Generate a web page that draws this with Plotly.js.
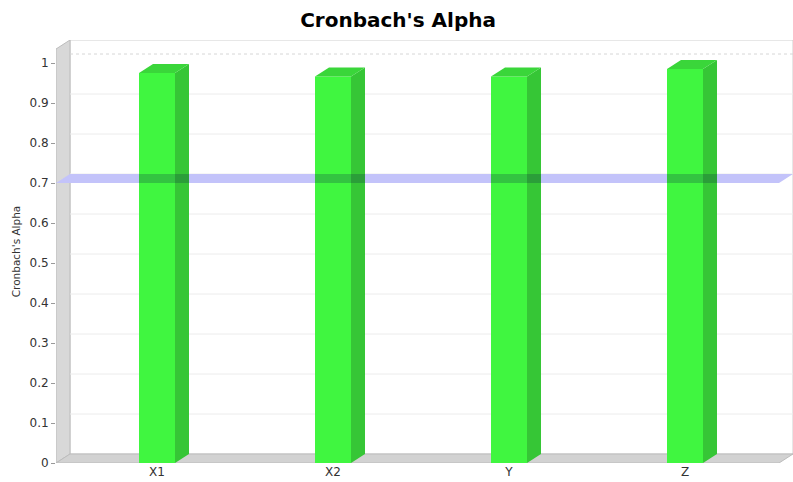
<!DOCTYPE html>
<html>
<head>
<meta charset="utf-8">
<script src="https://cdn.plot.ly/plotly-3.0.1.min.js"></script>
<style>html,body{margin:0;padding:0;background:#fff;}#chart{width:793px;height:482px;}</style>
</head>
<body>
<div id="chart"></div>
<script>
// ---- data ----
const categories = ['X1', 'X2', 'Y', 'Z'];
const alphaValues = [0.975, 0.966, 0.966, 0.985];
const yTickVals = [0, 0.1, 0.2, 0.3, 0.4, 0.5, 0.6, 0.7, 0.8, 0.9, 1];
const yTickText = ['0', '0.1', '0.2', '0.3', '0.4', '0.5', '0.6', '0.7', '0.8', '0.9', '1'];
const threshold = 0.7;

// ---- geometry (3D look) ----
const W = 793, H = 482;
const M = {l: 56, r: 0, t: 40, b: 19};
const pxX = 176, pxY = 400;            // pixels per axis unit
const X0 = -101 / pxX;
const X1 = X0 + (W - M.l - M.r) / pxX;
const Ytop = (H - M.t - M.b) / pxY;
const ddx = 14 / pxX, ddy = 9 / pxY;    // depth offset
const bw = 36 / pxX;                    // bar width

const idx = categories.map((c, i) => i);
const FONT = 'DejaVu Sans, Liberation Sans, Arial, sans-serif';

const shapes = [];
// back wall
shapes.push({type: 'path', xref: 'x', yref: 'y', layer: 'below',
  path: `M${X0+ddx},${ddy} L${X1},${ddy} L${X1},${Ytop} L${X0+ddx},${Ytop} Z`,
  fillcolor: '#ffffff', line: {color: '#cfcfcf', width: 1}});
// left wall
shapes.push({type: 'path', xref: 'x', yref: 'y', layer: 'below',
  path: `M${X0},0 L${X0+ddx},${ddy} L${X0+ddx},${Ytop} L${X0},${Ytop-ddy} Z`,
  fillcolor: '#d8d8d8', line: {color: '#bcbcbc', width: 1}});
// floor
shapes.push({type: 'path', xref: 'x', yref: 'y', layer: 'below',
  path: `M${X0},0 L${X1-ddx},0 L${X1},${ddy} L${X0+ddx},${ddy} Z`,
  fillcolor: '#d2d2d2', line: {color: '#bcbcbc', width: 1}});
// gridlines on back wall
yTickVals.forEach(t => {
  if (t <= 0) return;
  shapes.push({type: 'line', xref: 'x', yref: 'y', layer: 'below',
    x0: X0 + ddx, x1: X1, y0: t + ddy, y1: t + ddy,
    line: {color: t >= 1 ? '#d6d6d6' : '#ececec', width: 1, dash: t >= 1 ? 'dot' : 'solid'}});
});
// threshold band (3D plane)
shapes.push({type: 'path', xref: 'x', yref: 'y', layer: 'below',
  path: `M${X0},${threshold} L${X1-ddx},${threshold} L${X1},${threshold+ddy} L${X0+ddx},${threshold+ddy} Z`,
  fillcolor: '#c3c3fa', line: {width: 0}});
// bar side + top faces
idx.forEach((c, i) => {
  const v = alphaValues[i];
  const xl = c - bw / 2, xr = c + bw / 2;
  shapes.push({type: 'path', xref: 'x', yref: 'y', layer: 'above',
    path: `M${xr},0 L${xr+ddx},${ddy} L${xr+ddx},${v+ddy} L${xr},${v} Z`,
    fillcolor: 'rgb(54,198,54)', line: {width: 0}});
  shapes.push({type: 'path', xref: 'x', yref: 'y', layer: 'above',
    path: `M${xl},${v} L${xr},${v} L${xr+ddx},${v+ddy} L${xl+ddx},${v+ddy} Z`,
    fillcolor: 'rgb(58,214,58)', line: {width: 0}});
  // band seen through the bar
  shapes.push({type: 'path', xref: 'x', yref: 'y', layer: 'above',
    path: `M${xl},${threshold} L${xr+ddx},${threshold} L${xr+ddx},${threshold+ddy} L${xl},${threshold+ddy} Z`,
    fillcolor: 'rgba(0,0,70,0.2)', line: {width: 0}});
});

const trace = {
  type: 'bar', x: idx, y: alphaValues, width: bw,
  marker: {color: 'rgb(64,246,64)', line: {width: 0}},
  hoverinfo: 'skip'
};

const layout = {
  width: W, height: H,
  margin: M,
  paper_bgcolor: '#ffffff', plot_bgcolor: 'rgba(0,0,0,0)',
  showlegend: false,
  title: {text: "Cronbach's Alpha", x: 0.502, xanchor: 'center', y: 1 - 20 / H, yanchor: 'middle',
    font: {family: FONT, size: 20, color: '#000', weight: 'bold'}},
  xaxis: {range: [X0, X1], tickvals: idx, ticktext: categories, ticks: '',
    showgrid: false, zeroline: false, showline: false, fixedrange: true,
    tickfont: {family: FONT, size: 12, color: '#333'}},
  yaxis: {range: [0, Ytop], tickvals: yTickVals, ticktext: yTickText,
    ticks: 'outside', ticklen: 4, tickcolor: '#999',
    showgrid: false, zeroline: false, showline: false, fixedrange: true,
    tickfont: {family: FONT, size: 12, color: '#333'},
    title: {text: "Cronbach's Alpha", font: {family: FONT, size: 10.5, color: '#333'}, standoff: 6}},
  shapes: shapes
};

Plotly.newPlot('chart', [trace], layout, {displayModeBar: false, staticPlot: true});
</script>
</body>
</html>
